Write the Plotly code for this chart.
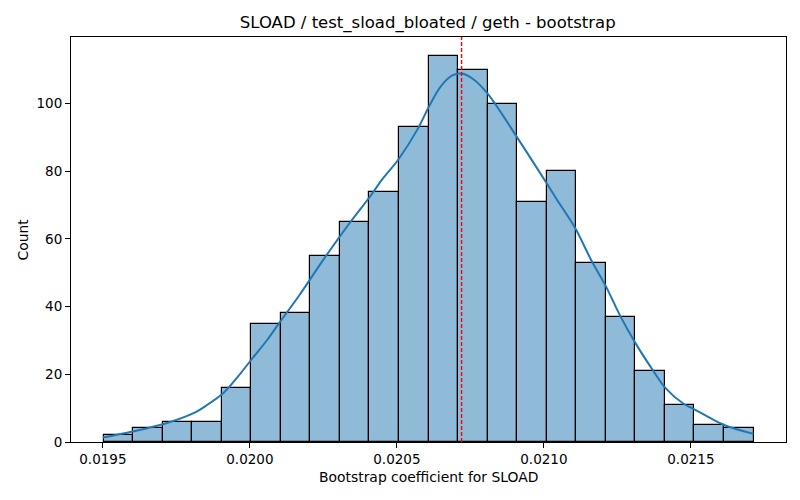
import numpy as np
import plotly.graph_objects as go

# Histogram data -------------------------------------------------------
counts = [2, 4, 6, 6, 16, 35, 38, 55, 65, 74, 93,
          114, 110, 100, 71, 80, 53, 37, 21, 11, 5, 4]
bin_lo = 0.019502
bin_hi = 0.021713

# KDE curve (scaled to counts)
kde_x = [0.01950, 0.01960, 0.01971, 0.01981, 0.01985, 0.01991, 0.01996,
         0.02001, 0.02006, 0.02010, 0.02017, 0.02025, 0.02034, 0.02041,
         0.02045, 0.020505, 0.02057, 0.02061, 0.02065, 0.02069, 0.02072,
         0.02076, 0.02081, 0.02091, 0.02101, 0.021044, 0.021106,
         0.021163, 0.021211, 0.02126, 0.021311, 0.021373, 0.021413,
         0.021475, 0.021509, 0.021611, 0.021713]
kde_y = [1.3, 3.1, 5.4, 8.6, 10.7, 14.5, 19.4,
         24.9, 30.3, 35.2, 43.6, 53.9, 64.8, 72.7,
         77.6, 83.5, 92.4, 99.3, 105.2, 108.4, 108.9,
         107.2, 102.8, 89.9, 76.4, 71.7, 63.3,
         53.4, 46.0, 37.2, 29.3, 20.9, 16.0,
         11.3, 9.8, 5.1, 2.4]

estimate = 0.02072

x_ticks = [0.0195, 0.0200, 0.0205, 0.0210, 0.0215]
y_ticks = [0, 20, 40, 60, 80, 100]

# Plot -----------------------------------------------------------------
edges = np.linspace(bin_lo, bin_hi, len(counts) + 1)
width = edges[1] - edges[0]

fig = go.Figure()

fig.add_trace(go.Bar(
    x=edges[:-1], y=counts, width=width, offset=0,
    marker=dict(color='rgba(31,119,180,0.5)',
                line=dict(color='black', width=1.2)),
    hoverinfo='skip'))

fig.add_trace(go.Scatter(
    x=kde_x, y=kde_y, mode='lines',
    line=dict(color='#1f77b4', width=2, shape='spline', smoothing=0.9)))

fig.add_shape(type='line', x0=estimate, x1=estimate,
              y0=0, y1=max(counts) * 1.05, xref='x', yref='y',
              layer='above',
              line=dict(color='#ff0000', width=1.4, dash='4px,2px'))

span = bin_hi - bin_lo
fig.update_xaxes(range=[bin_lo - 0.05 * span, bin_hi + 0.05 * span],
                 tickvals=x_ticks, tickformat='.4f', automargin=False,
                 ticks='outside', ticklen=5, tickcolor='black',
                 showline=True, linecolor='black', linewidth=1, mirror=True,
                 showgrid=False, zeroline=False,
                 tickfont=dict(size=13.5))
fig.update_yaxes(range=[0, max(counts) * 1.05],
                 tickvals=y_ticks, automargin=False,
                 ticks='outside', ticklen=5, tickcolor='black',
                 showline=True, linecolor='black', linewidth=1, mirror=True,
                 showgrid=False, zeroline=False,
                 tickfont=dict(size=13.5))

# axis labels placed like matplotlib does
fig.add_annotation(text='Bootstrap coefficient for SLOAD',
                   xref='paper', yref='paper', x=0.5, y=-0.086,
                   xanchor='center', yanchor='middle', showarrow=False,
                   font=dict(size=13.9))
fig.add_annotation(text='Count', textangle=-90,
                   xref='paper', yref='paper', x=-0.0685, y=0.5,
                   xanchor='center', yanchor='middle', showarrow=False,
                   font=dict(size=13.9))

# the page adds an 8px body margin, so the figure is 8px smaller
fig.update_layout(
    width=792, height=492,
    margin=dict(l=63, r=14, t=29, b=58, autoexpand=False),
    paper_bgcolor='white', plot_bgcolor='white',
    font=dict(family='DejaVu Sans', size=13, color='black'),
    showlegend=False, bargap=0,
    title=dict(text='SLOAD / test_sload_bloated / geth - bootstrap',
               x=0.530, xanchor='center', y=0.9715, yanchor='middle',
               font=dict(size=16.5)))

fig.write_html("out.html")
